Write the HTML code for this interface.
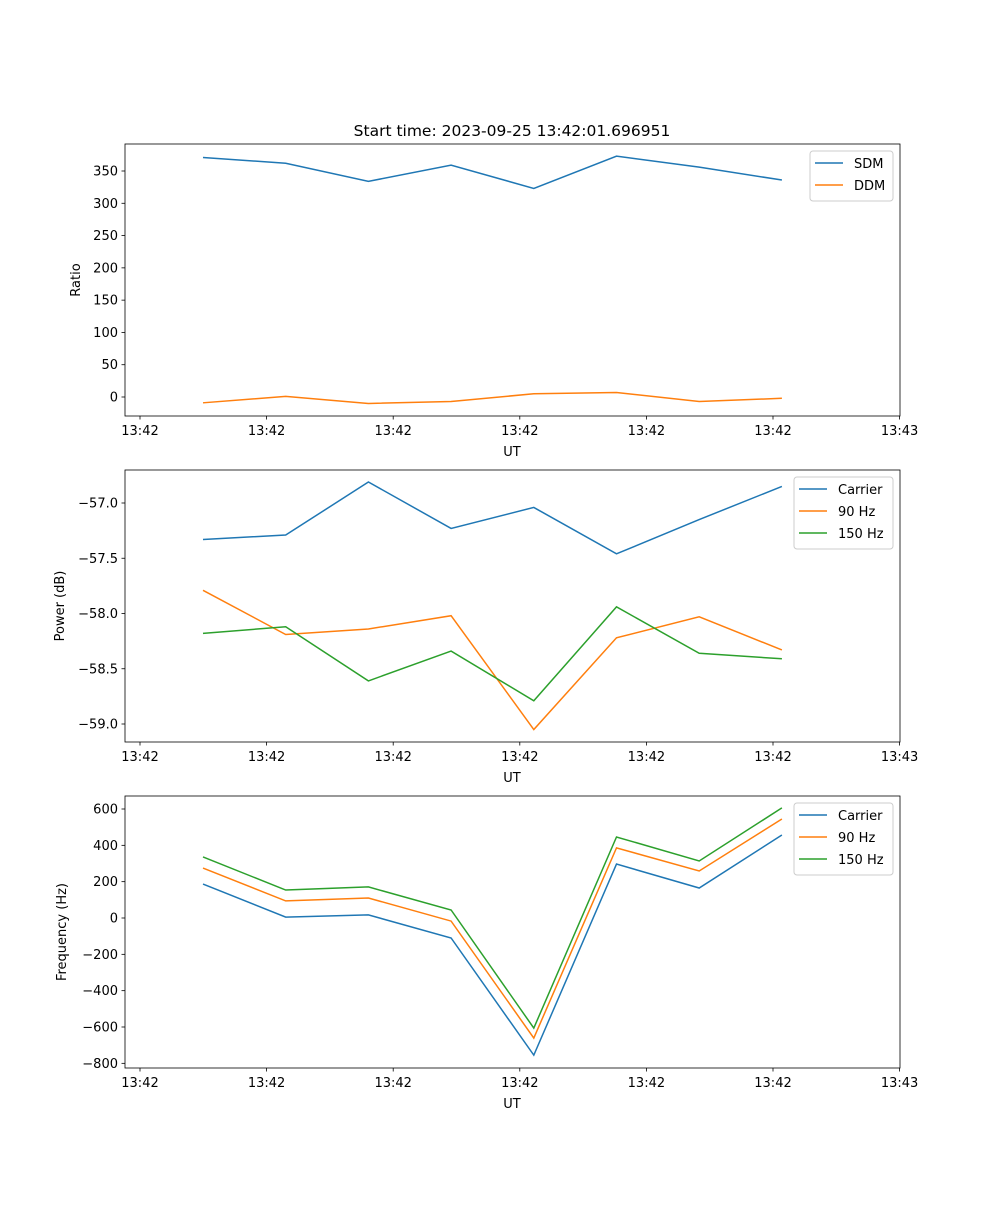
<!DOCTYPE html>
<html><head><meta charset="utf-8"><style>
body{margin:0;background:#fff}
svg text{font-family:"DejaVu Sans","Liberation Sans",sans-serif;font-size:13px;fill:#000}
</style></head><body>
<svg id="fig" width="1000" height="1200"></svg>
<script>
const xTickLabels=["13:42","13:42","13:42","13:42","13:42","13:42","13:43"];
const sdm=[371,362,334,359,323,373,356,336];
const ddm=[-9,1,-10,-7,5,7,-7,-2];
const pCarrier=[-57.33,-57.29,-56.81,-57.23,-57.04,-57.46,-57.15,-56.85];
const p90=[-57.79,-58.19,-58.14,-58.02,-59.05,-58.22,-58.03,-58.33];
const p150=[-58.18,-58.12,-58.61,-58.34,-58.79,-57.94,-58.36,-58.41];
const fCarrier=[187,5,17,-110,-755,297,165,457];
const f90=[275,94,110,-17,-661,386,259,545];
const f150=[336,154,171,44,-606,446,314,606];
const ticks1=[0,50,100,150,200,250,300,350];
const ticks2=[-57.0,-57.5,-58.0,-58.5,-59.0];
const ticks3=[600,400,200,0,-200,-400,-600,-800];

const NS="http://www.w3.org/2000/svg";
const svg=document.getElementById('fig');
function mk(tag,attrs,parent){const e=document.createElementNS(NS,tag);for(const k in attrs)e.setAttribute(k,attrs[k]);(parent||svg).appendChild(e);return e;}
const L=125,R=900;
const xPt=i=>203+i*82.7;
const xTick=i=>140+i*126.6;
const C={b:"#1f77b4",o:"#ff7f0e",g:"#2ca02c"};

function panel(name,top,bot,yv0,yp0,yv1,yp1,ticks,fmt,ylabel,ylx,series,legend){
  const g=mk('g',{});
  
  
  const y=v=>yp0+(v-yv0)*(yp1-yp0)/(yv1-yv0);
  const clip=mk('clipPath',{id:'c'+name},g);mk('rect',{x:L,y:top,width:R-L,height:bot-top},clip);
  series.forEach(s=>{
    const p=mk('polyline',{points:s.d.map((v,i)=>xPt(i)+','+y(v)).join(' '),fill:'none',stroke:s.c,'stroke-width':1.5,'clip-path':'url(#c'+name+')'},g);
    
    
  });
  mk('rect',{x:L,y:top,width:R-L,height:bot-top,fill:'none',stroke:'#000','stroke-width':0.8},g);
  ticks.forEach(t=>{const yy=y(t);mk('line',{x1:L-3.5,x2:L,y1:yy,y2:yy,stroke:'#000','stroke-width':0.8},g);
    const tx=mk('text',{x:L-7,y:yy+4.5,'text-anchor':'end'},g);tx.textContent=fmt(t);
    });
  xTickLabels.forEach((t,i)=>{const xx=xTick(i);mk('line',{x1:xx,x2:xx,y1:bot,y2:bot+3.5,stroke:'#000','stroke-width':0.8},g);
    const tx=mk('text',{x:xx,y:bot+19,'text-anchor':'middle'},g);tx.textContent=t;
    });
  const xl=mk('text',{x:512,y:bot+40,'text-anchor':'middle'},g);xl.textContent='UT';
  
  const yl=mk('text',{x:ylx,y:(top+bot)/2,'text-anchor':'middle',transform:`rotate(-90 ${ylx} ${(top+bot)/2})`},g);yl.textContent=ylabel;
  
  const lg=mk('g',{},g);
  mk('rect',{x:legend.x,y:top+7,width:legend.w,height:series.length*22+6,rx:3,fill:'#fff',stroke:'#ccc'},lg);
  series.forEach((s,i)=>{const yy=top+19+i*22;
    mk('line',{x1:legend.x+5,x2:legend.x+33,y1:yy,y2:yy,stroke:s.c,'stroke-width':1.5},lg);
    const tx=mk('text',{x:legend.x+44,y:yy+5},lg);tx.textContent=s.n;
    });
}
const t=mk('text',{x:512,y:136,'text-anchor':'middle',style:'font-size:15.5px'});
t.textContent='Start time: 2023-09-25 13:42:01.696951';

panel('ratio-panel',144,416,0,397,350,171,ticks1,v=>String(v),'Ratio',80,
  [{n:'SDM',d:sdm,c:C.b},{n:'DDM',d:ddm,c:C.o}],{x:810,w:83});
panel('power-panel',470,742,-57,503,-59,724,ticks2,v=>(v<0?'\u2212':'')+Math.abs(v).toFixed(1),'Power (dB)',64,
  [{n:'Carrier',d:pCarrier,c:C.b},{n:'90 Hz',d:p90,c:C.o},{n:'150 Hz',d:p150,c:C.g}],{x:794,w:99});
panel('frequency-panel',796,1068,0,918,600,809,ticks3,v=>(v<0?'\u2212':'')+Math.abs(v),'Frequency (Hz)',66,
  [{n:'Carrier',d:fCarrier,c:C.b},{n:'90 Hz',d:f90,c:C.o},{n:'150 Hz',d:f150,c:C.g}],{x:794,w:99});
</script>
</body></html>
